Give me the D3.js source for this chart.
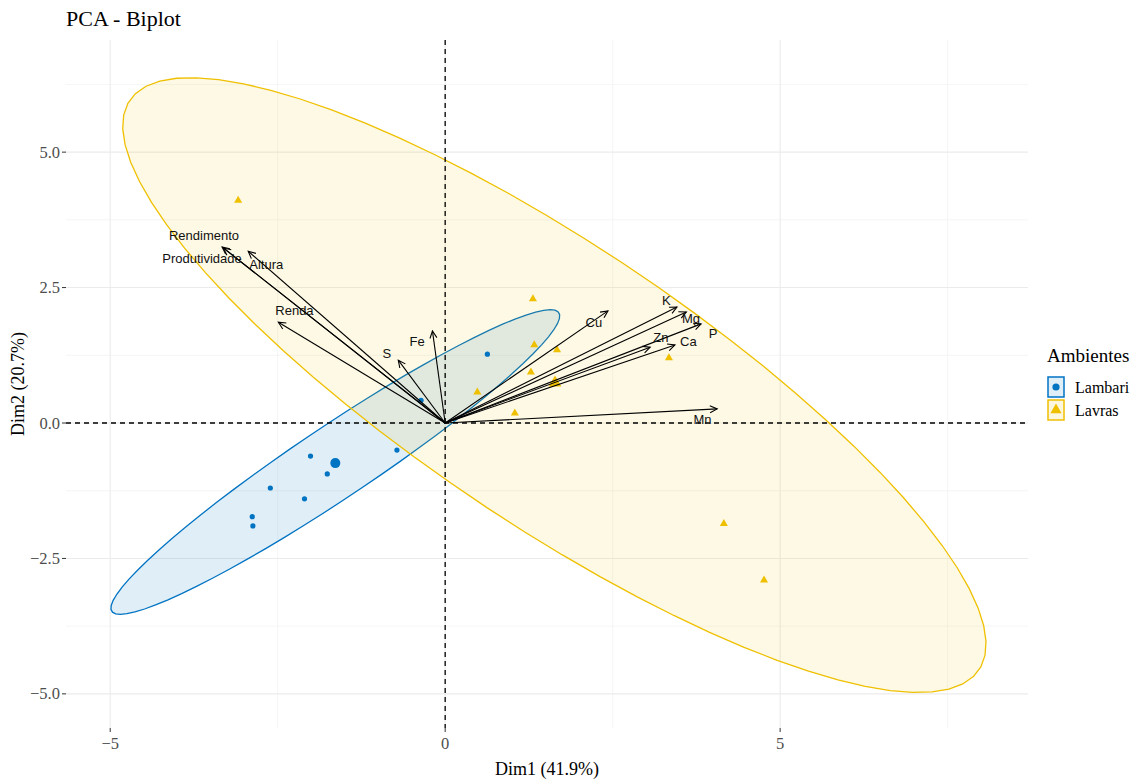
<!DOCTYPE html>
<html>
<head>
<meta charset="utf-8">
<script src="https://cdn.jsdelivr.net/npm/d3@7"></script>
<style>
  body { margin: 0; background: #fff; }
  svg { display: block; }
  .tick-label { font-family: 'Liberation Serif', serif; font-size: 16.5px; fill: #4d4d4d; }
  .axis-title { font-family: 'Liberation Serif', serif; font-size: 18px; fill: #000; }
  .var-label { font-family: 'Liberation Sans', Arial, sans-serif; font-size: 13px; fill: #111; }
</style>
</head>
<body>
<div id="chart"></div>
<script>
// individual scores (Dim1, Dim2)
const lambariPts = [[-2.01, -0.61], [-1.76, -0.94], [-2.61, -1.20], [-2.10, -1.40], [-2.88, -1.73],
  [-2.87, -1.90], [-0.72, -0.50], [-0.36, 0.42], [0.63, 1.27]];
const lavrasPts = [[-3.09, 4.11], [1.31, 2.29], [1.33, 1.44], [1.67, 1.35], [1.28, 0.94],
  [0.48, 0.57], [1.04, 0.18], [3.34, 1.20], [4.16, -1.86], [4.76, -2.90]];
const groupMeans = [[-1.64, -0.74], [1.64, 0.74]];

// variable arrows: name, tip x, tip y, label x, label y
const variables = [
  ['Rendimento', -3.33, 3.25, -3.60, 3.47],
  ['Produtividade', -3.31, 3.23, -3.63, 3.03],
  ['Altura', -2.94, 3.17, -2.67, 2.93],
  ['Renda', -2.49, 1.86, -2.25, 2.07],
  ['S', -0.70, 1.16, -0.87, 1.29],
  ['Fe', -0.19, 1.70, -0.42, 1.51],
  ['Cu', 2.43, 2.07, 2.22, 1.86],
  ['K', 3.46, 2.14, 3.30, 2.27],
  ['Mg', 3.60, 2.05, 3.67, 1.92],
  ['P', 3.82, 1.83, 4.00, 1.66],
  ['Zn', 3.06, 1.40, 3.22, 1.57],
  ['Ca', 3.43, 1.44, 3.63, 1.51],
  ['Mn', 4.06, 0.26, 3.84, 0.06]
];

// confidence ellipses: center x, center y, semi-major, semi-minor, angle (deg)
const ellipses = [
  { group: 'Lambari', cx: -1.64, cy: -0.72, a: 4.33, b: 0.62, angle: 39.8 },
  { group: 'Lavras', cx: 1.63, cy: 0.70, a: 8.25, b: 2.38, angle: -40.7 }
];

const groups = ['Lambari', 'Lavras'];
const groupColors = ['#0073C2', '#EFC000'];
const xTicks = [-5, 0, 5];
const yTicks = [-5, -2.5, 0, 2.5, 5];
const xMinor = [-2.5, 2.5, 7.5];
const yMinor = [-3.75, -1.25, 1.25, 3.75, 6.25];

const width = 1133;
const height = 783;
const panel = { left: 66, right: 1028, top: 40, bottom: 728 };

const svg = d3.select('#chart').append('svg').attr('width', width).attr('height', height);

const x = d3.scaleLinear().domain([-5.66, 8.70]).range([panel.left, panel.right]);
const y = d3.scaleLinear().domain([-5.63, 7.07]).range([panel.bottom, panel.top]);
const color = d3.scaleOrdinal().domain(groups).range(groupColors);

// grid
const grid = svg.append('g');
grid.selectAll('line.xminor').data(xMinor).join('line')
  .attr('x1', (d) => x(d)).attr('x2', (d) => x(d)).attr('y1', panel.top).attr('y2', panel.bottom)
  .attr('stroke', '#f3f3f3').attr('stroke-width', 0.8);
grid.selectAll('line.yminor').data(yMinor).join('line')
  .attr('y1', (d) => y(d)).attr('y2', (d) => y(d)).attr('x1', panel.left).attr('x2', panel.right)
  .attr('stroke', '#f3f3f3').attr('stroke-width', 0.8);
grid.selectAll('line.xmajor').data(xTicks).join('line')
  .attr('x1', (d) => x(d)).attr('x2', (d) => x(d)).attr('y1', panel.top).attr('y2', panel.bottom)
  .attr('stroke', '#ebebeb').attr('stroke-width', 1.1);
grid.selectAll('line.ymajor').data(yTicks).join('line')
  .attr('y1', (d) => y(d)).attr('y2', (d) => y(d)).attr('x1', panel.left).attr('x2', panel.right)
  .attr('stroke', '#ebebeb').attr('stroke-width', 1.1);

// ellipses
const ellLine = d3.line().x((d) => x(d[0])).y((d) => y(d[1]));
ellipses.forEach((e) => {
  const th = (e.angle * Math.PI) / 180;
  const pts = d3.range(0, 73).map((i) => {
    const t = (i / 72) * 2 * Math.PI;
    const u = e.a * Math.cos(t);
    const v = e.b * Math.sin(t);
    return [e.cx + u * Math.cos(th) - v * Math.sin(th), e.cy + u * Math.sin(th) + v * Math.cos(th)];
  });
  svg.append('path').attr('d', ellLine(pts))
    .attr('fill', color(e.group)).attr('fill-opacity', e.group === 'Lavras' ? 0.1 : 0.12)
    .attr('stroke', color(e.group)).attr('stroke-width', 1.3);
});

// reference lines
svg.append('line').attr('x1', panel.left).attr('x2', panel.right).attr('y1', y(0)).attr('y2', y(0))
  .attr('stroke', '#000').attr('stroke-width', 1.3).attr('stroke-dasharray', '5,4');
svg.append('line').attr('x1', x(0)).attr('x2', x(0)).attr('y1', panel.top).attr('y2', panel.bottom)
  .attr('stroke', '#000').attr('stroke-width', 1.3).attr('stroke-dasharray', '5,4');

// points
svg.append('g').selectAll('circle').data(lambariPts).join('circle')
  .attr('cx', (d) => x(d[0])).attr('cy', (d) => y(d[1])).attr('r', 2.6).attr('fill', color('Lambari'));
const tri = d3.symbol().type(d3.symbolTriangle);
svg.append('g').selectAll('path').data(lavrasPts).join('path')
  .attr('d', tri.size(28)())
  .attr('transform', (d) => `translate(${x(d[0])},${y(d[1])})`).attr('fill', color('Lavras'));
svg.append('circle').attr('cx', x(groupMeans[0][0])).attr('cy', y(groupMeans[0][1])).attr('r', 5)
  .attr('fill', color('Lambari'));
svg.append('path').attr('d', tri.size(70)())
  .attr('transform', `translate(${x(groupMeans[1][0])},${y(groupMeans[1][1])})`).attr('fill', color('Lavras'));

// variable arrows
const arrows = svg.append('g');
variables.forEach(([name, vx, vy]) => {
  const x0 = x(0), y0 = y(0), x1 = x(vx), y1 = y(vy);
  const ang = Math.atan2(y1 - y0, x1 - x0);
  const len = 8, spread = Math.PI / 7;
  arrows.append('line').attr('x1', x0).attr('y1', y0).attr('x2', x1).attr('y2', y1)
    .attr('stroke', '#000').attr('stroke-width', 1.1);
  arrows.append('path')
    .attr('d', `M${x1 - len * Math.cos(ang - spread)},${y1 - len * Math.sin(ang - spread)}L${x1},${y1}L${x1 - len * Math.cos(ang + spread)},${y1 - len * Math.sin(ang + spread)}`)
    .attr('fill', 'none').attr('stroke', '#000').attr('stroke-width', 1.1);
});
svg.append('g').selectAll('text').data(variables).join('text')
  .attr('class', 'var-label')
  .attr('x', (d) => x(d[3])).attr('y', (d) => y(d[4]))
  .attr('text-anchor', 'middle').attr('dominant-baseline', 'central')
  .text((d) => d[0]);

// axes ticks and labels
const tickG = svg.append('g');
tickG.selectAll('line.xt').data(xTicks).join('line')
  .attr('x1', (d) => x(d)).attr('x2', (d) => x(d)).attr('y1', panel.bottom).attr('y2', panel.bottom + 4)
  .attr('stroke', '#333').attr('stroke-width', 1);
tickG.selectAll('text.xt').data(xTicks).join('text').attr('class', 'tick-label')
  .attr('x', (d) => x(d)).attr('y', panel.bottom + 21).attr('text-anchor', 'middle')
  .text((d) => d3.format('d')(d));
tickG.selectAll('line.yt').data(yTicks).join('line')
  .attr('y1', (d) => y(d)).attr('y2', (d) => y(d)).attr('x1', panel.left - 4).attr('x2', panel.left)
  .attr('stroke', '#333').attr('stroke-width', 1);
tickG.selectAll('text.yt').data(yTicks).join('text').attr('class', 'tick-label')
  .attr('x', panel.left - 6).attr('y', (d) => y(d)).attr('text-anchor', 'end').attr('dominant-baseline', 'central')
  .text((d) => d3.format('.1f')(d));

svg.append('text').attr('class', 'axis-title').attr('x', (panel.left + panel.right) / 2).attr('y', 775)
  .attr('text-anchor', 'middle').text('Dim1 (41.9%)');
svg.append('text').attr('class', 'axis-title')
  .attr('transform', `translate(24,${(panel.top + panel.bottom) / 2}) rotate(-90)`)
  .attr('text-anchor', 'middle').text('Dim2 (20.7%)');
svg.append('text').attr('x', 66).attr('y', 26)
  .style('font-family', "'Liberation Serif', serif").style('font-size', '22px').text('PCA - Biplot');

// legend
const legend = svg.append('g').attr('transform', 'translate(1047,340)');
legend.append('text').attr('x', 0).attr('y', 22)
  .style('font-family', "'Liberation Serif', serif").style('font-size', '19px').text('Ambientes');
groups.forEach((g, i) => {
  const row = legend.append('g').attr('transform', `translate(0,${36 + i * 23})`);
  row.append('rect').attr('x', 1).attr('y', 1).attr('width', 16).attr('height', 20)
    .attr('fill', color(g)).attr('fill-opacity', 0.12).attr('stroke', color(g)).attr('stroke-width', 1.5);
  if (i === 0) {
    row.append('circle').attr('cx', 9).attr('cy', 11).attr('r', 3.6).attr('fill', color(g));
  } else {
    row.append('path').attr('d', tri.size(55)()).attr('transform', 'translate(9,11)').attr('fill', color(g));
  }
  row.append('text').attr('x', 28).attr('y', 11).attr('dominant-baseline', 'central')
    .style('font-family', "'Liberation Serif', serif").style('font-size', '16px').text(g);
});
</script>
</body>
</html>
